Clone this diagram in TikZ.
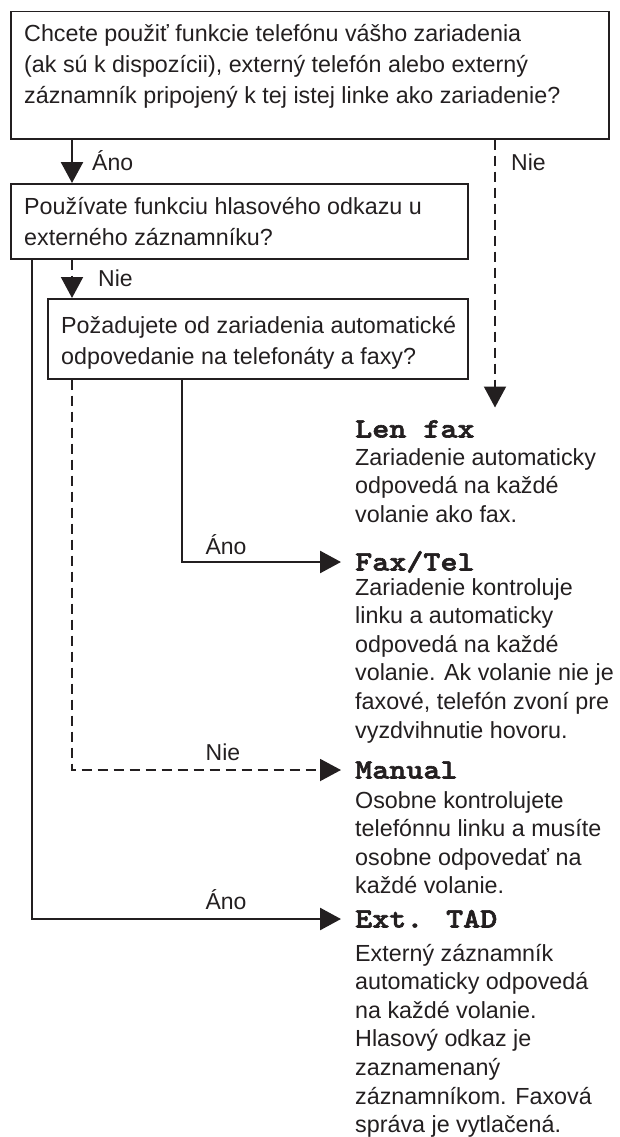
\documentclass[tikz,border=0pt]{standalone}
\usepackage{fontspec}
\setmainfont{Liberation Sans}
\newfontfamily\headfont{lmmonolt10-bold.otf}[FakeStretch=1.16,FakeBold=2.2]
\usetikzlibrary{arrows.meta}
\definecolor{ink}{RGB}{35,31,32}
\newcommand\mlines[2]{\parbox[t]{#1}{\raggedright #2}}
\begin{document}
\begin{tikzpicture}[x=1pt,y=-1pt,
  qbox/.style={draw=ink, line width=1.5pt, inner sep=0pt, anchor=north west},
  qtext/.style={inner sep=0pt, anchor=base west, text=ink, font=\fontsize{23.3}{31}\selectfont},
  desc/.style={inner sep=0pt, anchor=base west, text=ink, font=\fontsize{23.3}{28.6}\selectfont},
  lbl/.style={inner sep=0pt, anchor=base, text=ink, font=\fontsize{23}{28}\selectfont},
  lbll/.style={lbl, anchor=base west},
  head/.style={inner sep=0pt, anchor=west, text=ink, text height=17pt, text depth=0pt, font=\fontsize{28}{30}\headfont},
  conn/.style={draw=ink, line width=2.6pt, -{Triangle[width=22pt,length=21pt]}},
  dconn/.style={conn, line width=2pt, dash pattern=on 10pt off 6pt}]
\useasboundingbox (0,0) rectangle (619,1137);

% boxes
\node[qbox, minimum width=598pt, minimum height=127pt] (box1) at (10,11) {};
\node[qbox, minimum width=457pt, minimum height=75pt] (box2) at (10,183) {};
\node[qbox, minimum width=420pt, minimum height=80pt] (box3) at (47,298) {};

\node[qtext] (t1) at (24,42) {\mlines{584pt}{Chcete použiť funkcie telefónu vášho zariadenia\\(ak sú k dispozícii), externý telefón alebo externý\\záznamník pripojený k tej istej linke ako zariadenie?}};
\node[qtext] (t2) at (24,214) {\mlines{440pt}{Používate funkciu hlasového odkazu u\\externého záznamníku?}};
\node[qtext] (t3) at (61,333) {\mlines{404pt}{Požadujete od zariadenia automatické\\odpovedanie na telefonáty a faxy?}};

% headings
\node[head] (lenfax) at (355,429) {Len fax};
\node[head] (faxtel) at (355,562) {Fax/Tel};
\node[head] (manual) at (355,770) {Manual};
\node[head] (exttad) at (355,919) {Ext. TAD};

% descriptions
\node[desc] (d1) at (355,465) {\mlines{262pt}{Zariadenie automaticky\\odpovedá na každé\\volanie ako fax.}};
\node[desc] (d2) at (355,595) {\mlines{264pt}{Zariadenie kontroluje\\linku a automaticky\\odpovedá na každé\\volanie. Ak volanie nie je\\faxové, telefón zvoní pre\\vyzdvihnutie hovoru.}};
\node[desc] (d3) at (355,808) {\mlines{264pt}{Osobne kontrolujete\\telefónnu linku a musíte\\osobne odpovedať na\\každé volanie.}};
\node[desc] (d4) at (355,961) {\mlines{264pt}{Externý záznamník\\automaticky odpovedá\\na každé volanie.\\Hlasový odkaz je\\zaznamenaný\\záznamníkom. Faxová\\správa je vytlačená.}};

% connectors
\draw[conn] ([xshift=62pt]box1.south west) -- ([xshift=62pt]box2.north west);
\draw[dconn] ([xshift=485pt]box1.south west) -- ++(0,268) coordinate (lenfaxtip);
\draw[dconn] ([xshift=62pt]box2.south west) -- ([xshift=25pt]box3.north west);
\draw[conn] ([xshift=135pt]box3.south west) |- ([xshift=-14pt]faxtel.west);
\draw[dconn] ([xshift=25pt]box3.south west) |- ([xshift=-14pt]manual.west);
\draw[conn] ([xshift=22pt]box2.south west) |- ([xshift=-14pt]exttad.west);

% labels
\node[lbll] (l1) at (92,170) {Áno};
\node[lbll] (l2) at (511,170) {Nie};
\node[lbll] (l3) at (98,286) {Nie};
\node[lbl] (l4) at (226,554) {Áno};
\node[lbl] (l5) at (223,760) {Nie};
\node[lbl] (l6) at (226,909) {Áno};
\end{tikzpicture}
\end{document}
